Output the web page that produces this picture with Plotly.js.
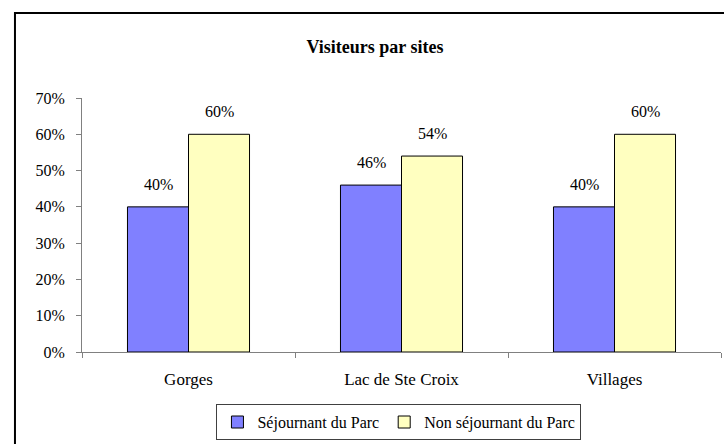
<!DOCTYPE html>
<html>
<head>
<meta charset="utf-8">
<script src="https://cdn.plot.ly/plotly-3.0.1.min.js"></script>
<style>html,body{margin:0;padding:0;background:#fff;}</style>
</head>
<body>
<div id="chart" style="width:724px;height:444px;"></div>
<script>
const categories = ["Gorges", "Lac de Ste Croix", "Villages"];
const sejournant = [0.40, 0.46, 0.40];
const nonSejournant = [0.60, 0.54, 0.60];
const seriesNames = ["Séjournant du Parc", "Non séjournant du Parc"];
const yTickVals = [0, 0.1, 0.2, 0.3, 0.4, 0.5, 0.6, 0.7];

const FONT = "Liberation Serif";

const traces = [
  {type: "bar", x: categories, y: sejournant, name: seriesNames[0],
   marker: {color: "#8080FF", line: {color: "#000000", width: 1}}, hoverinfo: "none"},
  {type: "bar", x: categories, y: nonSejournant, name: seriesNames[1],
   marker: {color: "#FFFFC0", line: {color: "#000000", width: 1}}, hoverinfo: "none"}
];

const annotations = [];
[sejournant, nonSejournant].forEach((arr, s) => {
  arr.forEach((v, i) => {
    annotations.push({
      x: categories[i], y: v, xref: "x", yref: "y",
      text: Math.round(v * 100) + "%", showarrow: false,
      xshift: s === 0 ? -30 : 31, yshift: 12, yanchor: "bottom",
      font: {family: FONT, size: 16, color: "#000"}
    });
  });
});

const layout = {
  width: 724, height: 444,
  margin: {l: 82, r: 3, t: 98, b: 92},
  paper_bgcolor: "#ffffff", plot_bgcolor: "#ffffff",
  font: {family: FONT, size: 16, color: "#000"},
  title: {text: "<b>Visiteurs par sites</b>", x: 0.518, xanchor: "center", y: 0.894, yanchor: "middle",
          font: {family: FONT, size: 18, color: "#000"}},
  barmode: "group", bargap: 0.427, bargroupgap: 0,
  showlegend: true,
  legend: {orientation: "h", x: 0.496, xanchor: "center", y: -0.276, yanchor: "middle",
           bordercolor: "#404040", borderwidth: 1, bgcolor: "#fff",
           font: {family: FONT, size: 16, color: "#000"}, itemwidth: 30, tracegroupgap: 0},
  xaxis: {showline: true, linecolor: "#808080", linewidth: 1, ticks: "outside", tickson: "boundaries",
          ticklen: 5, tickcolor: "#808080", showgrid: false, zeroline: false,
          ticklabelstandoff: 12, fixedrange: true, tickfont: {family: FONT, size: 17, color: "#000"}},
  yaxis: {range: [0, 0.7], tickvals: yTickVals, tickformat: ".0%", showline: true, linecolor: "#808080",
          ticks: "outside", ticklen: 5, tickcolor: "#808080", showgrid: false, zeroline: false,
          ticklabelstandoff: 8, fixedrange: true, tickfont: {family: FONT, size: 16, color: "#000"}},
  annotations: annotations,
  shapes: [
    {type: "path", xref: "paper", yref: "paper",
     path: "M -0.1049,-0.40 L -0.1049,1.3346 L 1.01,1.3346",
     line: {color: "#000", width: 2}}
  ]
};

Plotly.newPlot("chart", traces, layout, {displayModeBar: false, staticPlot: true});
</script>
</body>
</html>
